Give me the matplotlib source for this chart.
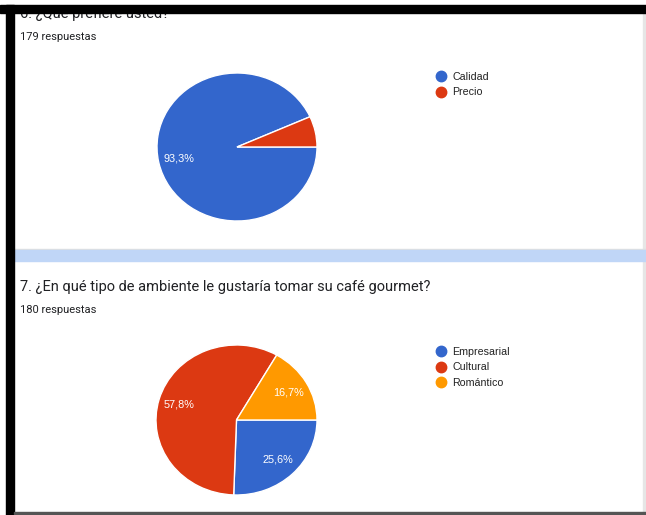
import matplotlib.pyplot as plt
from matplotlib.patches import Rectangle
from matplotlib.lines import Line2D

# datos de las dos preguntas
q6_title = "6. ¿Qué prefiere usted?"
q6_total = "179 respuestas"
q6_labels = ["Calidad", "Precio"]
q6_counts = [167, 12]

q7_title = "7. ¿En qué tipo de ambiente le gustaría tomar su café gourmet?"
q7_total = "180 respuestas"
q7_labels = ["Empresarial", "Cultural", "Romántico"]
q7_counts = [46, 104, 30]

blue, red, orange = "#3366cc", "#dc3912", "#ff9900"
q6_colors = [blue, red]
q7_colors = [blue, red, orange]

W, H = 646, 515
plt.rcParams['font.family'] = ['Roboto', 'DejaVu Sans']
chart_font = ['Liberation Sans', 'DejaVu Sans']


def box(x0, y0, x1, y1):
    # pixeles (desde arriba) -> fraccion de figura
    return [x0 / W, 1 - y1 / H, (x1 - x0) / W, (y1 - y0) / H]


def fy(y):
    return 1 - y / H


def pct(p):
    # como google, no se rotulan las porciones pequeñas
    if p < 10:
        return ""
    return f"{p:.1f}%".replace(".", ",")


fig = plt.figure(figsize=(W / 100, H / 100), dpi=100)
fig.patch.set_facecolor("white")

# bordes y separador del formulario
fig.patches.append(Rectangle((0, fy(13)), 1, 8 / H, transform=fig.transFigure,
                             color="black", zorder=5))
fig.patches.append(Rectangle((6 / W, 0), 8 / W, fy(5), transform=fig.transFigure,
                             color="black", zorder=5))
fig.patches.append(Rectangle((14 / W, fy(514)), 1, 2 / H, transform=fig.transFigure,
                             color="#555555", zorder=5))
fig.patches.append(Rectangle((643 / W, fy(512)), 2 / W, 499 / H, transform=fig.transFigure,
                             color="#e6e6e6", zorder=4))
fig.patches.append(Rectangle((14 / W, fy(250)), 1, 1 / H, transform=fig.transFigure,
                             color="#e0e0e0", zorder=4))
fig.patches.append(Rectangle((14 / W, fy(261)), 1, 11 / H, transform=fig.transFigure,
                             color="#c0d6f7", zorder=4))

# textos
fig.text(20 / W, fy(14), q6_title, fontsize=10.5, color="#202124", va="center", zorder=3)
fig.text(20 / W, fy(37), q6_total, fontsize=8, color="#202124", va="center")
fig.text(20 / W, fy(287), q7_title, fontsize=10.5, color="#202124", va="center")
fig.text(20 / W, fy(310), q7_total, fontsize=8, color="#202124", va="center")


def draw_pie(rect, counts, colors, labels, legend_top):
    ax = fig.add_axes(box(*rect))
    ax.pie(counts, colors=colors, startangle=0, counterclock=False,
           autopct=pct, pctdistance=0.74,
           wedgeprops=dict(edgecolor="white", linewidth=1),
           textprops=dict(color="white", fontsize=7.8, family=chart_font))
    ax.set_aspect("auto")
    ax.set_xlim(-1, 1)
    ax.set_ylim(-1, 1)
    ax.axis("off")
    handles = [Line2D([], [], marker="o", linestyle="", markersize=7.5,
                      markerfacecolor=c, markeredgecolor=c) for c in colors]
    fig.legend(handles, labels, loc="upper left",
               bbox_to_anchor=(436 / W, fy(legend_top)), frameon=False,
               prop=dict(size=7.7, family=chart_font),
               borderpad=0, borderaxespad=0, handlelength=1,
               handletextpad=0.55, labelspacing=0.5, labelcolor="#222222")


draw_pie((157, 73, 317, 221), q6_counts, q6_colors, q6_labels, 72)
draw_pie((156, 345, 317, 495), q7_counts, q7_colors, q7_labels, 347)

fig.savefig("out.png", dpi=100, facecolor="white")
